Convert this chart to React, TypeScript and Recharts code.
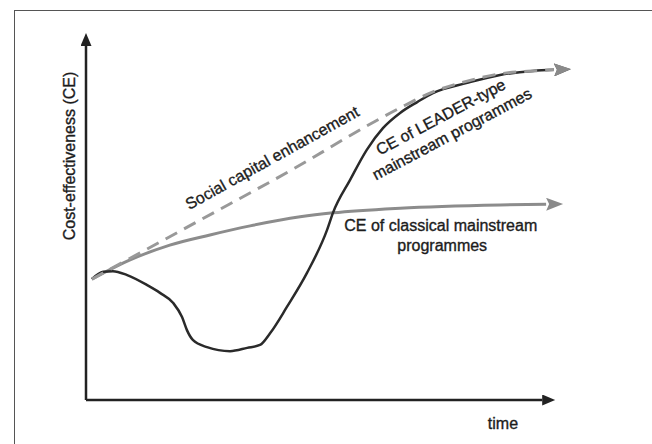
import React from 'react';
import { LineChart, Line, XAxis, YAxis, ReferenceLine, ReferenceDot } from 'recharts';

// time axis positions (0-100) and cost-effectiveness values (0-100)
const leaderTime = [1.2, 3.5, 5.5, 8.4, 12.4, 15.1, 17.8, 19.6, 20.6, 21.8, 24.7, 29.4, 32.9, 35.5, 37.6, 41.0, 45.1, 49.2, 50.4, 53.9, 57.3, 60.6, 64.1, 67.6, 70.8, 77.8, 84.5, 91.2, 95.5];
const leaderCE = [33.4, 35.4, 35.6, 34.5, 31.8, 29.6, 26.8, 22.9, 19.3, 16.6, 14.6, 13.5, 14.4, 15.2, 18.5, 25.7, 35.1, 47.0, 51.7, 60.8, 69.1, 75.1, 79.3, 82.3, 84.8, 87.6, 89.8, 90.9, 91.2];

const socialTime = [1.2, 23.3, 43.7, 57.3, 64.1, 70.8, 77.8, 84.5, 91.2, 95.5];
const socialCE = [33.4, 49.7, 64.9, 75.7, 80.7, 85.1, 88.1, 90.1, 90.9, 91.2];

const classicalTime = [1.2, 9.0, 17.1, 25.3, 33.5, 43.7, 50.4, 64.1, 84.5, 93.9];
const classicalCE = [33.4, 38.7, 42.8, 45.6, 48.1, 50.6, 51.7, 53.0, 53.9, 54.1];

// extent of the drawn axes (arrow heads are added on top)
const X_AXIS_END = 93.1;
const Y_AXIS_END = 97.8;

const toRows = (ts: number[], vs: number[]) => ts.map((t, i) => ({ t, ce: vs[i] }));

const leaderData = toRows(leaderTime, leaderCE);
const socialData = toRows(socialTime, socialCE);
const classicalData = toRows(classicalTime, classicalCE);

const FONT = '"Liberation Sans", Arial, sans-serif';

// annotation anchors (data units) and rotation
const annotations = [
  { text: 'Social capital enhancement', x: 38.0, y: 66.9, angle: -29 },
  { text: 'CE of LEADER-type', x: 72.4, y: 78.2, angle: -28 },
  { text: 'mainstream programmes', x: 74.7, y: 73.5, angle: -28 },
  { text: 'CE of classical mainstream', x: 72.4, y: 48.1, angle: 0 },
  { text: 'programmes', x: 72.7, y: 42.8, angle: 0 },
  { text: 'time', x: 85.1, y: -6.4, angle: 0 },
  { text: 'Cost-effectiveness (CE)', x: -3.3, y: 67.4, angle: -90 },
];

const textShape = (text: string, angle: number) => (props: any) => {
  const { cx, cy } = props;
  return (
    <text
      x={cx}
      y={cy}
      textAnchor="middle"
      dominantBaseline="central"
      transform={angle ? `rotate(${angle} ${cx} ${cy})` : undefined}
      fill="#1c1c1c"
      stroke="#1c1c1c"
      strokeWidth={0.35}
      fontSize={16}
      fontFamily={FONT}
    >
      {text}
    </text>
  );
};

const App = () => {
  return (
    <div style={{ position: 'relative', width: 652, height: 444, overflow: 'hidden', background: '#fff' }}>
      <style>{`body { margin: 0; }`}</style>
      <div
        style={{
          position: 'absolute',
          left: 14,
          top: 10,
          width: 680,
          height: 480,
          border: '1.5px solid #555',
        }}
      />
      {/* arrow heads, referenced by the lines below */}
      <svg width={0} height={0} style={{ position: 'absolute' }}>
        <defs>
          <marker id="axisArrow" markerUnits="userSpaceOnUse" markerWidth={14} markerHeight={11} refX={0} refY={5.5} orient="auto">
            <path d="M0,0 L13,5.5 L0,11 Z" fill="#222" />
          </marker>
          <marker id="greyArrow" markerUnits="userSpaceOnUse" markerWidth={18} markerHeight={13} refX={0} refY={6.5} orient="auto">
            <path d="M0,0 L17,6.5 L0,13 L3,6.5 Z" fill="#8a8a8a" />
          </marker>
          <marker id="darkArrow" markerUnits="userSpaceOnUse" markerWidth={18} markerHeight={13} refX={0} refY={6.5} orient="auto">
            <path d="M0,0 L17,6.5 L0,13 L3,6.5 Z" fill="#555" />
          </marker>
        </defs>
      </svg>
      <div style={{ position: 'absolute', left: 0, top: 0 }}>
        <LineChart width={652} height={444} margin={{ top: 38, right: 76, bottom: 44, left: 86 }}>
          <XAxis type="number" dataKey="t" domain={[0, 100]} hide />
          <YAxis type="number" dataKey="ce" domain={[0, 100]} hide />

          <ReferenceLine
            segment={[{ x: 0, y: 0 }, { x: X_AXIS_END, y: 0 }]}
            stroke="#222"
            strokeWidth={2.5}
            markerEnd="url(#axisArrow)"
          />
          <ReferenceLine
            segment={[{ x: 0, y: 0 }, { x: 0, y: Y_AXIS_END }]}
            stroke="#222"
            strokeWidth={2.5}
            markerEnd="url(#axisArrow)"
          />

          <Line
            data={classicalData}
            dataKey="ce"
            type="monotone"
            stroke="#8c8c8c"
            strokeWidth={3}
            dot={false}
            markerEnd="url(#greyArrow)"
            isAnimationActive={false}
          />
          <Line
            data={leaderData}
            dataKey="ce"
            type="monotone"
            stroke="#2a2a2a"
            strokeWidth={2.5}
            dot={false}
            markerEnd="url(#darkArrow)"
            isAnimationActive={false}
          />
          <Line
            data={socialData}
            dataKey="ce"
            type="monotone"
            stroke="#999"
            strokeWidth={3}
            strokeDasharray="13 8"
            dot={false}
            markerEnd="url(#greyArrow)"
            isAnimationActive={false}
          />

          {annotations.map((a) => (
            <ReferenceDot
              key={a.text}
              x={a.x}
              y={a.y}
              r={0}
              ifOverflow="visible"
              shape={textShape(a.text, a.angle)}
            />
          ))}
        </LineChart>
      </div>
    </div>
  );
};

export default App;
